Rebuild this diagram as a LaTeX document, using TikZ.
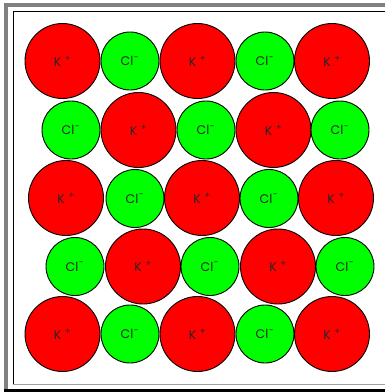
\documentclass[tikz,border=0pt]{standalone}
\usepackage{fontspec}
\setmainfont{Poppins}
\newcommand{\Kion}{K\kern3.5pt\raisebox{0.5pt}{\textsuperscript{+}}}
\newcommand{\Clion}{Cl\kern0.5pt\raisebox{1pt}{\textsuperscript{-}}}
\begin{document}
\begin{tikzpicture}[x=1pt,y=-1pt,
  ionK/.style={circle,draw=black,line width=0.9pt,fill=red,minimum size=75pt,inner sep=0pt,text=black!85,font=\fontsize{12.5}{13}\selectfont},
  ionCl/.style={circle,draw=black,line width=0.9pt,fill=green,minimum size=58pt,inner sep=0pt,text=black!85,font=\fontsize{12.5}{13}\selectfont}]
\definecolor{frgray}{HTML}{808080}
\definecolor{frlight}{HTML}{A0A0A0}
\useasboundingbox (0,0) rectangle (385,392);
\fill[white] (0,0) rectangle (385,392);
% frame
\fill[frgray] (4,3) rectangle (385,6.5);
\fill[frgray] (4,3) rectangle (7.5,389);
\fill[black] (4,388.5) rectangle (385,392);
\draw[black,line width=1pt] (13,384) -- (13,11) -- (385,11);
\draw[frlight,line width=1pt] (13,384) -- (385,384);
% row 1
\node[ionK]  (r1c1) at (62.5,61)  {\Kion};
\node[ionCl] (r1c2) at (130,61)   {\Clion};
\node[ionK]  (r1c3) at (197.5,61) {\Kion};
\node[ionCl] (r1c4) at (265,61)   {\Clion};
\node[ionK]  (r1c5) at (332,61)   {\Kion};
% row 2
\node[ionCl] (r2c1) at (71,130)    {\Clion};
\node[ionK]  (r2c2) at (138.5,130) {\Kion};
\node[ionCl] (r2c3) at (206,130)   {\Clion};
\node[ionK]  (r2c4) at (273.5,130) {\Kion};
\node[ionCl] (r2c5) at (340,130)   {\Clion};
% row 3
\node[ionK]  (r3c1) at (66,198)    {\Kion};
\node[ionCl] (r3c2) at (135,198.5) {\Clion};
\node[ionK]  (r3c3) at (202,198)   {\Kion};
\node[ionCl] (r3c4) at (269,198.5) {\Clion};
\node[ionK]  (r3c5) at (336,198)   {\Kion};
% row 4
\node[ionCl] (r4c1) at (75,266.5)    {\Clion};
\node[ionK]  (r4c2) at (143,266.5)   {\Kion};
\node[ionCl] (r4c3) at (210,266.5)   {\Clion};
\node[ionK]  (r4c4) at (278,266.5)   {\Kion};
\node[ionCl] (r4c5) at (345,266.5)   {\Clion};
% row 5
\node[ionK]  (r5c1) at (62.5,334)  {\Kion};
\node[ionCl] (r5c2) at (130,334)   {\Clion};
\node[ionK]  (r5c3) at (197.5,334) {\Kion};
\node[ionCl] (r5c4) at (265,334)   {\Clion};
\node[ionK]  (r5c5) at (332,334)   {\Kion};
\end{tikzpicture}
\end{document}
